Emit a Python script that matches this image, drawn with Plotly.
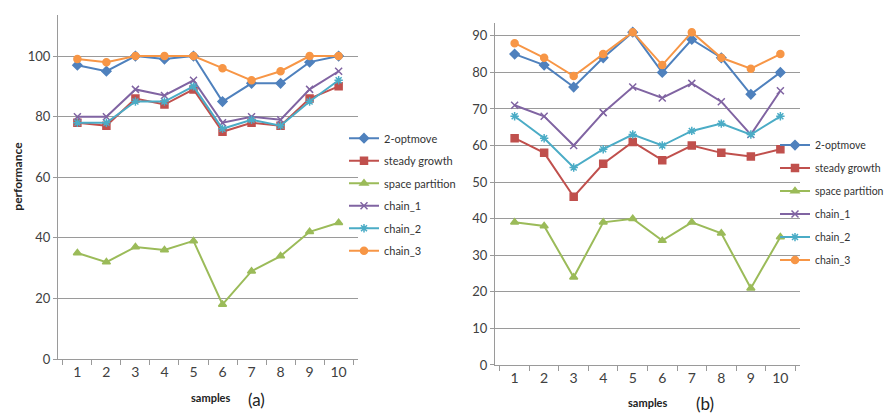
import plotly.graph_objects as go

samples = ["1", "2", "3", "4", "5", "6", "7", "8", "9", "10"]
series_names = ["2-optmove", "steady growth", "space partition", "chain_1", "chain_2", "chain_3"]

a_2opt = [97, 95, 100, 99, 100, 85, 91, 91, 98, 100]
a_steady = [78, 77, 86, 84, 89, 75, 78, 77, 86, 90]
a_space = [35, 32, 37, 36, 39, 18, 29, 34, 42, 45]
a_chain1 = [80, 80, 89, 87, 92, 78, 80, 79, 89, 95]
a_chain2 = [78, 78, 85, 85, 90, 76, 79, 77, 85, 92]
a_chain3 = [99, 98, 100, 100, 100, 96, 92, 95, 100, 100]

b_2opt = [85, 82, 76, 84, 91, 80, 89, 84, 74, 80]
b_steady = [62, 58, 46, 55, 61, 56, 60, 58, 57, 59]
b_space = [39, 38, 24, 39, 40, 34, 39, 36, 21, 35]
b_chain1 = [71, 68, 60, 69, 76, 73, 77, 72, 63, 75]
b_chain2 = [68, 62, 54, 59, 63, 60, 64, 66, 63, 68]
b_chain3 = [88, 84, 79, 85, 91, 82, 91, 84, 81, 85]

colors = ["#4F81BD", "#C0504D", "#9BBB59", "#8064A2", "#4BACC6", "#F79646"]
symbols = ["diamond", "square", "triangle-up", "x-thin-open", "asterisk-open", "circle"]
sizes = [7, 7, 7, 7, 7, 7]

FONT = "Lato"
fig = go.Figure()

def add_set(data, xa, ya, legend, prefix):
    for i, (name, vals) in enumerate(zip(series_names, data)):
        fig.add_trace(go.Scatter(
            x=samples, y=vals, name=name, mode="lines+markers",
            xaxis=xa, yaxis=ya, legend=legend, legendgroup=f"{prefix}{i}",
            line=dict(color=colors[i], width=2),
            marker=dict(symbol=symbols[i], size=sizes[i], color=colors[i],
                        line=dict(color=colors[i], width=1.5)),
        ))

add_set([a_2opt, a_steady, a_space, a_chain1, a_chain2, a_chain3], "x", "y", "legend", "a")
add_set([b_2opt, b_steady, b_space, b_chain1, b_chain2, b_chain3], "x2", "y2", "legend2", "b")

grid = "#9a9a9a"
xcommon = dict(type="category", tickson="boundaries", ticks="outside", ticklen=5,
               tickcolor=grid, showline=True, linecolor=grid, showgrid=False,
               tickfont=dict(family=FONT, size=14, color="#404040"), fixedrange=True)
ycommon = dict(showgrid=True, gridcolor=grid, showline=True, linecolor=grid,
               ticks="outside", ticklen=4, tickcolor=grid, zeroline=False,
               tickfont=dict(family=FONT, size=13, color="#404040"), fixedrange=True)

W, H = 893, 413
legfont = dict(family=FONT, size=11, color="#333")
legfont2 = dict(family=FONT, size=10.5, color="#333")
fig.update_layout(
    width=W, height=H, margin=dict(l=0, r=0, t=0, b=0),
    paper_bgcolor="white", plot_bgcolor="white",
    xaxis=dict(domain=[50 / W, 350 / W], anchor="y", **xcommon),
    yaxis=dict(domain=[(H - 358) / H, (H - 7) / H], range=[0, 113.6], dtick=20, anchor="x", **ycommon),
    xaxis2=dict(domain=[487 / W, 792 / W], anchor="y2", **xcommon),
    yaxis2=dict(domain=[(H - 364) / H, (H - 15.7) / H], range=[0, 93.4], dtick=10, anchor="x2", **ycommon),
    legend=dict(x=336 / W, y=(H - 118) / H, xanchor="left", yanchor="top",
                font=legfont, bgcolor="rgba(0,0,0,0)",
                itemwidth=30, tracegroupgap=3.5),
    legend2=dict(x=767 / W, y=(H - 125) / H, xanchor="left", yanchor="top",
                 font=legfont2, bgcolor="rgba(0,0,0,0)",
                 itemwidth=30, tracegroupgap=4),
    showlegend=True,
    annotations=[
        dict(text="<b>performance</b>", x=10 / W, y=(H - 172) / H, xref="paper", yref="paper",
             xanchor="center", yanchor="middle",
             textangle=-90, showarrow=False, font=dict(family=FONT, size=12, color="#222")),
        dict(text="<b>samples</b>", x=202 / W, y=(H - 397) / H, xref="paper", yref="paper",
             xanchor="center", yanchor="middle",
             showarrow=False, font=dict(family=FONT, size=11, color="#222")),
        dict(text="(a)", x=248 / W, y=(H - 399) / H, xref="paper", yref="paper",
             xanchor="center", yanchor="middle",
             showarrow=False, font=dict(family=FONT, size=17, color="#222")),
        dict(text="<b>samples</b>", x=639 / W, y=(H - 402) / H, xref="paper", yref="paper",
             xanchor="center", yanchor="middle",
             showarrow=False, font=dict(family=FONT, size=11, color="#222")),
        dict(text="(b)", x=697 / W, y=(H - 403) / H, xref="paper", yref="paper",
             xanchor="center", yanchor="middle",
             showarrow=False, font=dict(family=FONT, size=17, color="#222")),
    ],
)

fig.write_html("out.html")
